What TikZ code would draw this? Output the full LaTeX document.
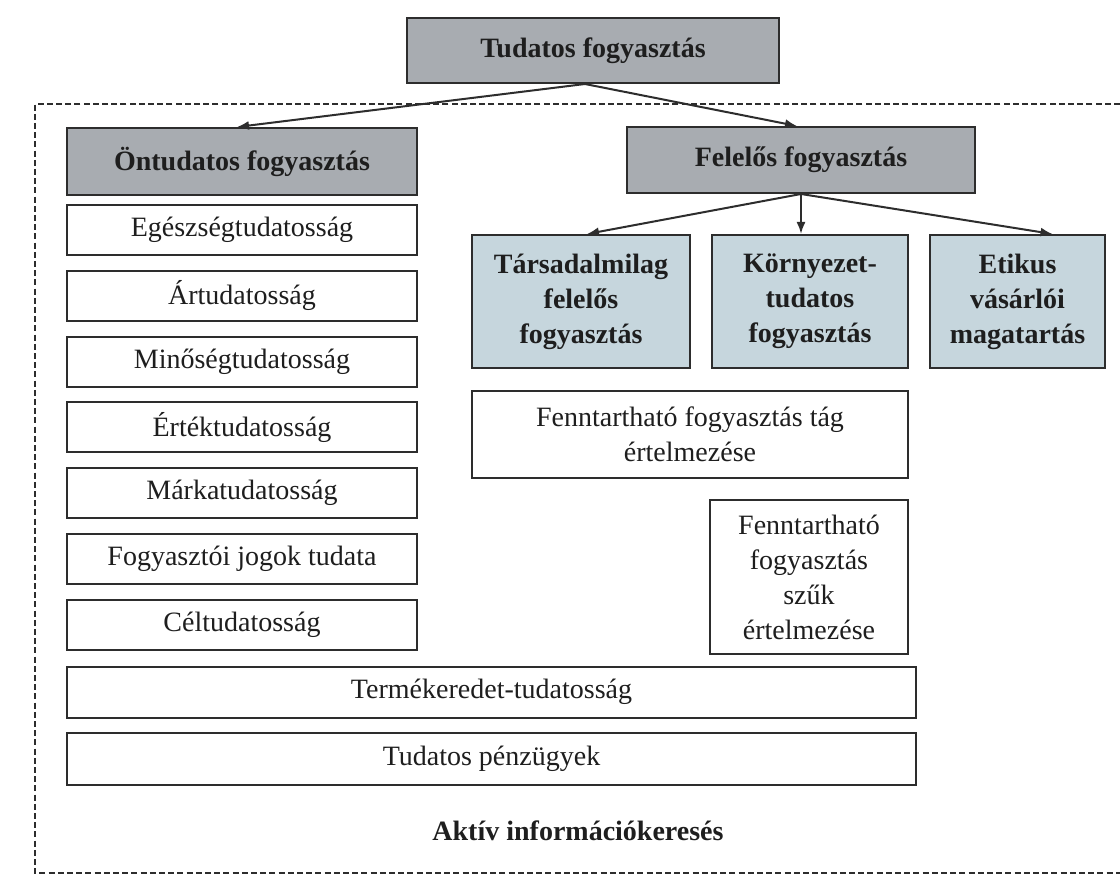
\documentclass[tikz,border=0pt]{standalone}
\usepackage{fontspec}
\setmainfont{Liberation Serif}
\usetikzlibrary{arrows.meta,calc}
\definecolor{darkfill}{RGB}{168,172,177}
\definecolor{lightfill}{RGB}{198,214,221}
\definecolor{edge}{RGB}{45,45,45}
\definecolor{txt}{RGB}{30,30,30}
\tikzset{
  basebox/.style={draw=edge, line width=1pt, inner sep=0pt, align=center, text=txt,
    font=\fontsize{14}{17.5}\selectfont},
  plainbox/.style={basebox, fill=white},
  greybox/.style={basebox, fill=darkfill, font=\fontsize{14}{17.5}\selectfont\bfseries},
  bluebox/.style={basebox, fill=lightfill, font=\fontsize{14}{17.5}\selectfont\bfseries},
  conn/.style={draw=edge, line width=1pt, -{Latex[length=6pt,width=4.5pt]}},
  frame/.style={draw=edge, line width=0.75pt, dash pattern=on 3pt off 1.6pt}
}
\begin{document}
\begin{tikzpicture}[x=0.5pt,y=-0.5pt]
\useasboundingbox (0,0) rectangle (1120,883);
% dashed frame (its right side lies beyond the picture)
\draw[frame] (1120,104) -- (35,104) -- (35,873) -- (1120,873);
% top levels
\node[greybox, minimum width=186pt, minimum height=32.5pt] (tf) at (593,50.5) {Tudatos fogyasztás};
\node[greybox, minimum width=175pt, minimum height=33.5pt] (ot) at (242,161.5) {Öntudatos fogyasztás};
\node[greybox, minimum width=174pt, minimum height=33pt] (ff) at (801,160) {Felelős fogyasztás};
% left column
\node[plainbox, minimum width=175pt, minimum height=25pt] (eg) at (242,230) {Egészségtudatosság};
\node[plainbox, minimum width=175pt, minimum height=25pt] (ar) at (242,295.8) {Ártudatosság};
\node[plainbox, minimum width=175pt, minimum height=25pt] (mi) at (242,361.6) {Minőségtudatosság};
\node[plainbox, minimum width=175pt, minimum height=25pt] (er) at (242,427.4) {Értéktudatosság};
\node[plainbox, minimum width=175pt, minimum height=25pt] (ma) at (242,493.2) {Márkatudatosság};
\node[plainbox, minimum width=175pt, minimum height=25pt] (fj) at (242,559) {Fogyasztói jogok tudata};
\node[plainbox, minimum width=175pt, minimum height=25pt] (ce) at (242,624.8) {Céltudatosság};
% wide rows
\node[plainbox, minimum width=424.5pt, minimum height=25.5pt] (te) at (491.5,692) {Termékeredet-tudatosság};
\node[plainbox, minimum width=424.5pt, minimum height=26pt] (tp) at (491.5,759) {Tudatos pénzügyek};
\node[text=txt, font=\fontsize{14}{17.5}\selectfont\bfseries, inner sep=0pt] (ai) at (578,831) {Aktív információkeresés};
% right side
\node[bluebox, minimum width=109pt, minimum height=66.5pt] (ts) at (581,301.5) {Társadalmilag\\felelős\\fogyasztás};
\node[bluebox, minimum width=98pt, minimum height=66.5pt] (kt) at (810,301.5) {Környezet-\\tudatos\\fogyasztás};
\node[bluebox, minimum width=87.5pt, minimum height=66.5pt] (et) at (1017.5,301.5) {Etikus\\vásárlói\\magatartás};
\node[plainbox, minimum width=218pt, minimum height=43.5pt] (ta) at (690,434.5) {Fenntartható fogyasztás tág\\értelmezése};
\node[plainbox, minimum width=99pt, minimum height=77pt] (sz) at (809,577) {Fenntartható\\fogyasztás\\szűk\\értelmezése};
% connectors
\draw[conn] ([xshift=-4pt]tf.south) -- ([xshift=-2.5pt]ot.north);
\draw[conn] ([xshift=-4pt]tf.south) -- ([xshift=-2pt]ff.north);
\draw[conn] (ff.south) -- ([xshift=3pt]ts.north);
\draw[conn] (ff.south) -- (ff.south |- kt.north);
\draw[conn] (ff.south) -- ([xshift=17.5pt]et.north);
\end{tikzpicture}
\end{document}
